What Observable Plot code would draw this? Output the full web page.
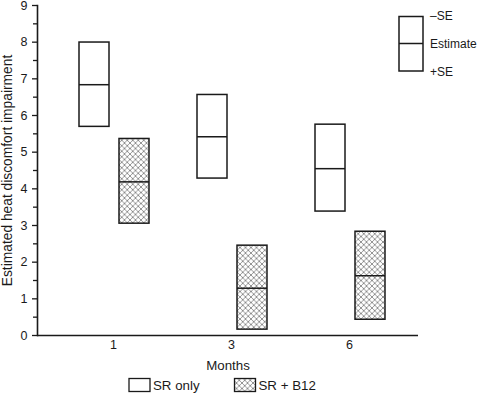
<!DOCTYPE html>
<html>
<head>
<meta charset="utf-8">
<script src="https://cdn.jsdelivr.net/npm/d3@7"></script>
<script src="https://cdn.jsdelivr.net/npm/@observablehq/plot@0.6"></script>
<style>
  html, body { margin: 0; padding: 0; background: #fff; }
  #chart { position: relative; width: 482px; height: 395px; font-family: "Liberation Sans", Arial, Helvetica, sans-serif; }
  #legend { position: absolute; left: 0; top: 372px; }
</style>
</head>
<body>
<div id="chart"></div>
<script>
// ---- data ----
const months = ["1", "3", "6"];
const srLow  = [5.69, 4.28, 3.38];
const srEst  = [6.84, 5.42, 4.55];
const srHigh = [7.99, 6.56, 5.75];
const b12Low  = [3.05, 0.16, 0.43];
const b12Est  = [4.19, 1.29, 1.63];
const b12High = [5.36, 2.45, 2.83];
const groups = ["SR only", "SR + B12"];
const yMajor = [0, 1, 2, 3, 4, 5, 6, 7, 8, 9];
const yMinor = [0.5, 1.5, 2.5, 3.5, 4.5, 5.5, 6.5, 7.5, 8.5];
const keyLabels = ["\u2013SE", "Estimate", "+SE"];

const sr = months.map((m, i) => ({month: m, lo: srLow[i], est: srEst[i], hi: srHigh[i]}));
const b12 = months.map((m, i) => ({month: m, lo: b12Low[i], est: b12Est[i], hi: b12High[i]}));

const ink = "#1a1a1a";
const font = "\"Liberation Sans\", Arial, Helvetica, sans-serif";

const plot = Plot.plot({
  width: 482,
  height: 372,
  marginLeft: 37,
  marginRight: 64,
  marginTop: 5,
  marginBottom: 37,
  style: {fontFamily: font, fontSize: "12px", color: ink, background: "white", overflow: "visible"},
  x: {type: "band", domain: months, paddingInner: 0.747, paddingOuter: 0.481, align: 0.535, axis: null},
  y: {domain: [0, 9], axis: null},
  marks: [
    Plot.axisY({ticks: yMajor, tickSize: 5, tickPadding: 5, fontSize: 12.5, strokeWidth: 1.3, label: null}),
    Plot.axisY({ticks: [], label: "Estimated heat discomfort impairment", fontSize: 13.8, labelAnchor: "center", labelOffset: 35.5, labelArrow: "none"}),
    Plot.axisY({ticks: yMinor, tickSize: 4, tickFormat: () => "", strokeWidth: 1.3, label: null}),
    Plot.axisX({tickSize: 0, tickPadding: 5, fontSize: 12.5, dx: -1, label: null}),
    Plot.axisX({ticks: [], label: "Months", fontSize: 13.3, labelAnchor: "center", labelOffset: 34.5, labelArrow: "none"}),
    Plot.frame({anchor: "left", stroke: ink, strokeWidth: 1.6}),
    Plot.ruleY([0], {stroke: ink, strokeWidth: 1.6}),
    Plot.barY(sr, {x: "month", y1: "lo", y2: "hi", dx: -20, fill: "white", stroke: ink, strokeWidth: 1.5}),
    Plot.tickY(sr, {x: "month", y: "est", dx: -20, stroke: ink, strokeWidth: 1.5}),
    Plot.barY(b12, {x: "month", y1: "lo", y2: "hi", dx: 20, fill: "url(#xhatch)", stroke: ink, strokeWidth: 1.5}),
    Plot.tickY(b12, {x: "month", y: "est", dx: 20, stroke: ink, strokeWidth: 1.5})
  ]
});

// cross-hatch pattern definition
const svg = d3.select(plot);
const defs = svg.insert("defs", ":first-child");
const pat = defs.append("pattern").attr("id", "xhatch").attr("patternUnits", "userSpaceOnUse")
  .attr("width", 5.5).attr("height", 5.5);
pat.append("rect").attr("width", 5.5).attr("height", 5.5).attr("fill", "white");
pat.append("path").attr("d", "M0,0L5.5,5.5M5.5,0L0,5.5").attr("stroke", "#7a7a7a").attr("stroke-width", 0.8);

// top-right key (−SE / Estimate / +SE)
const key = svg.append("g").attr("font-family", font).attr("font-size", 12).attr("fill", ink)
  .attr("text-anchor", "start");
key.append("rect").attr("x", 399).attr("y", 16.5).attr("width", 24).attr("height", 54.5)
  .attr("fill", "white").attr("stroke", ink).attr("stroke-width", 1.5);
key.append("line").attr("x1", 399).attr("x2", 423).attr("y1", 43.5).attr("y2", 43.5)
  .attr("stroke", ink).attr("stroke-width", 1.5);
[16, 44, 72].forEach((yy, i) => {
  key.append("text").attr("x", 430).attr("y", yy).attr("dy", "0.35em").attr("text-anchor", "start").text(keyLabels[i]);
});

const chart = document.getElementById("chart");
chart.appendChild(plot);

// bottom legend
const leg = d3.select(chart).append("svg").attr("id", "legend").attr("width", 482).attr("height", 23)
  .attr("font-family", font).attr("font-size", 13.3);
const ldefs = leg.append("defs");
const lpat = ldefs.append("pattern").attr("id", "xhatch2").attr("patternUnits", "userSpaceOnUse")
  .attr("width", 5.5).attr("height", 5.5);
lpat.append("rect").attr("width", 5.5).attr("height", 5.5).attr("fill", "white");
lpat.append("path").attr("d", "M0,0L5.5,5.5M5.5,0L0,5.5").attr("stroke", "#7a7a7a").attr("stroke-width", 0.8);
const items = [{x: 129, fill: "white"}, {x: 234.5, fill: "url(#xhatch2)"}];
items.forEach((it, i) => {
  leg.append("rect").attr("x", it.x).attr("y", 6.5).attr("width", 21).attr("height", 13)
    .attr("fill", it.fill).attr("stroke", ink).attr("stroke-width", 1.3);
  leg.append("text").attr("x", it.x + 24).attr("y", 13).attr("dy", "0.35em").attr("fill", ink).text(groups[i]);
});
</script>
</body>
</html>
